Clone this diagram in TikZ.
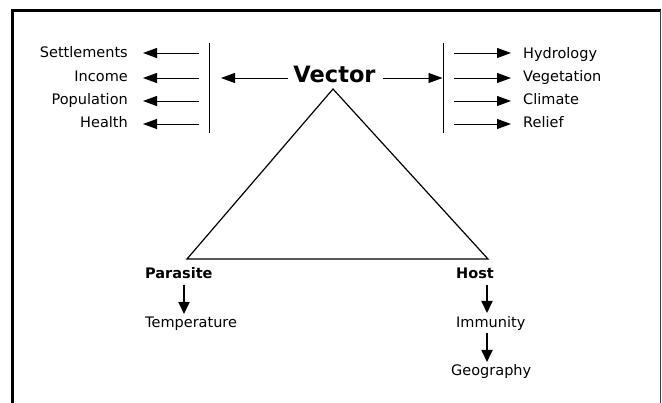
\documentclass[tikz,border=0pt]{standalone}
\usepackage{fontspec}
\setmainfont{DejaVu Sans}
\usetikzlibrary{arrows.meta}
\tikzset{
  lbl/.style={inner sep=0pt, font=\fontsize{14.5}{16}\selectfont},
  blbl/.style={inner sep=0pt, font=\fontsize{14.5}{16}\selectfont\bfseries},
  harr/.style={line width=0.9pt, -{Triangle[length=14pt,width=10pt]}},
  varr/.style={line width=1.8pt, -{Triangle[length=12pt,width=11pt]}},
  bar/.style={line width=1pt},
  frame/.style={line width=2.6pt},
}
\begin{document}
\begin{tikzpicture}[x=1pt,y=-1pt]
\useasboundingbox (0,0) rectangle (662,403);
% frame
\draw[frame] (12.5,404) -- (12.5,10.5) -- (661,10.5);
\draw[line width=1.6pt, black!75] (660.5,10.5) -- (660.5,404);
% Vector
\node[inner sep=0pt, anchor=base, font=\fontsize{22.5}{24}\selectfont\bfseries] (vec) at (334.5,83) {Vector};
% bars
\coordinate (lbT) at (209,43); \coordinate (lbB) at (209,133);
\coordinate (rbT) at (443,43); \coordinate (rbB) at (443,133);
\draw[bar] (lbT) -- (lbB);
\draw[bar] (rbT) -- (rbB);
\coordinate (vl) at (288,78); \coordinate (vlt) at (221,78);
\coordinate (vr) at (383,78); \coordinate (vrt) at (442.5,78);
\draw[harr] (vl) -- (vlt);
\draw[harr] (vr) -- (vrt);
% left labels
\node[lbl, anchor=base east] (set) at (128,58) {Settlements};
\node[lbl, anchor=base east] (inc) at (128,82) {Income};
\node[lbl, anchor=base east] (pop) at (128,105) {Population};
\node[lbl, anchor=base east] (hea) at (128,128) {Health};
\foreach \n/\y in {set/53,inc/78,pop/101,hea/124}{
  \coordinate (L\n) at (199,\y);
  \draw[harr] (L\n) -- (143,\y);
}
% right labels
\node[lbl, anchor=base west] (hyd) at (523,59) {Hydrology};
\node[lbl, anchor=base west] (veg) at (523,82) {Vegetation};
\node[lbl, anchor=base west] (cli) at (523,105) {Climate};
\node[lbl, anchor=base west] (rel) at (523,128) {Relief};
\foreach \n/\y in {hyd/53,veg/78,cli/101,rel/124}{
  \coordinate (R\n) at (454,\y);
  \draw[harr] (R\n) -- (511,\y);
}
% triangle
\coordinate (apex) at (333,89);
\coordinate (bl) at (187,259);
\coordinate (br) at (488,259);
\draw[line width=1.2pt, line join=miter] (apex) -- (bl) -- (br) -- cycle;
% bottom
\node[blbl, anchor=base west] (par) at (145,279) {Parasite};
\node[lbl, anchor=base west] (tem) at (145,328) {Temperature};
\node[blbl, anchor=base west] (hos) at (456,279) {Host};
\node[lbl, anchor=base west] (imm) at (456,328) {Immunity};
\node[lbl, anchor=base west] (geo) at (451,376) {Geography};
\draw[varr] (184,285) -- (184,314);
\draw[varr] (487,285) -- (487,313);
\draw[varr] (487,333) -- (487,362);
\end{tikzpicture}
\end{document}
